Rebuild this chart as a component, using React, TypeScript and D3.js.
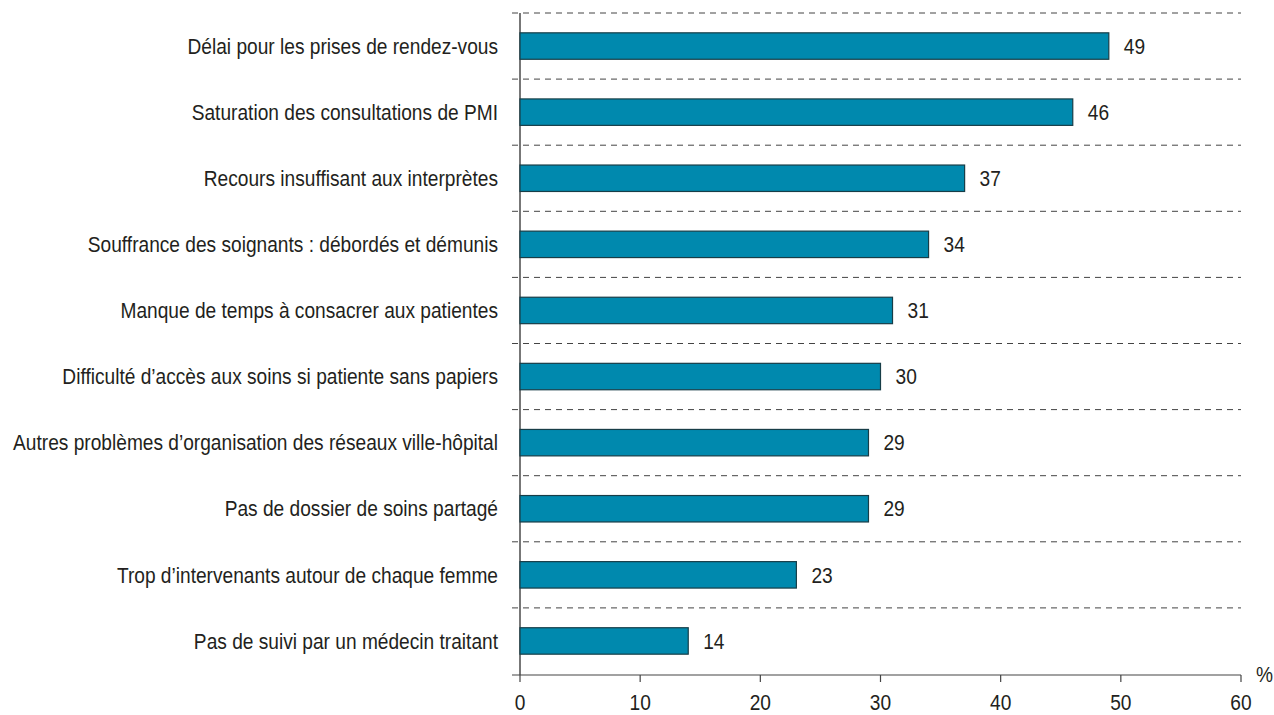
import React from 'react';
import * as d3 from 'd3';

const categories = [
  'Délai pour les prises de rendez-vous',
  'Saturation des consultations de PMI',
  'Recours insuffisant aux interprètes',
  'Souffrance des soignants : débordés et démunis',
  'Manque de temps à consacrer aux patientes',
  'Difficulté d’accès aux soins si patiente sans papiers',
  'Autres problèmes d’organisation des réseaux ville-hôpital',
  'Pas de dossier de soins partagé',
  'Trop d’intervenants autour de chaque femme',
  'Pas de suivi par un médecin traitant',
];
const values = [49, 46, 37, 34, 31, 30, 29, 29, 23, 14];
const xTicks = [0, 10, 20, 30, 40, 50, 60];

const W = 1274;
const H = 715;
const FONT = '"Liberation Sans", Arial, sans-serif';
const SX = 0.87; // condensed look
const FS = 22;
const INK = '#231f20';

// narrow-looking text: a horizontally squeezed Liberation Sans
const T: React.FC<{ x: number; y: number; anchor?: string; dy?: string; children: React.ReactNode }> =
  ({ x, y, anchor = 'start', dy, children }) => (
    <text transform={`translate(${x},${y}) scale(${SX},1)`} textAnchor={anchor} dy={dy}
      fontSize={FS} fill={INK}>{children}</text>
  );

const App: React.FC = () => {
  const x = d3.scaleLinear().domain([0, 60]).range([520, 1241]);
  const y = d3.scaleBand<string>()
    .domain(categories)
    .range([13, 674])
    .paddingInner(0.6)
    .paddingOuter(0.3);
  const step = y.step();
  const axisY = 675;

  return (
    <svg width={W} height={H} style={{ position: 'absolute', left: 0, top: 0, background: '#fff' }}
      fontFamily={FONT}>
      {/* dashed separators */}
      {categories.map((c, i) => {
        const yy = (y(c) as number) - step * 0.3;
        return (
          <line key={'g' + i} x1={512} x2={1241} y1={yy} y2={yy}
            stroke="#444" strokeWidth={1} strokeDasharray="6,5" />
        );
      })}
      {/* y axis */}
      <line x1={x(0)} x2={x(0)} y1={13} y2={axisY} stroke="#555" strokeWidth={1.6} />
      {/* x axis */}
      <line x1={512} x2={x(60)} y1={axisY} y2={axisY} stroke="#444" strokeWidth={1.2} />
      {xTicks.map(t => (
        <g key={'t' + t}>
          <line x1={x(t)} x2={x(t)} y1={axisY} y2={axisY + 7} stroke="#444" strokeWidth={1.2} />
          <T x={x(t)} y={710} anchor="middle">{t}</T>
        </g>
      ))}
      <T x={1256} y={682}>%</T>
      {/* bars */}
      {categories.map((c, i) => {
        const top = y(c) as number;
        const mid = top + y.bandwidth() / 2;
        return (
          <g key={'b' + i}>
            <rect x={x(0)} y={top} width={x(values[i]) - x(0)} height={y.bandwidth()}
              fill="#0089ae" stroke="#173d47" strokeWidth={1.2} />
            <T x={x(values[i]) + 15} y={mid} dy="0.35em">{values[i]}</T>
            <T x={498} y={mid} dy="0.35em" anchor="end">{c}</T>
          </g>
        );
      })}
    </svg>
  );
};

export default App;
